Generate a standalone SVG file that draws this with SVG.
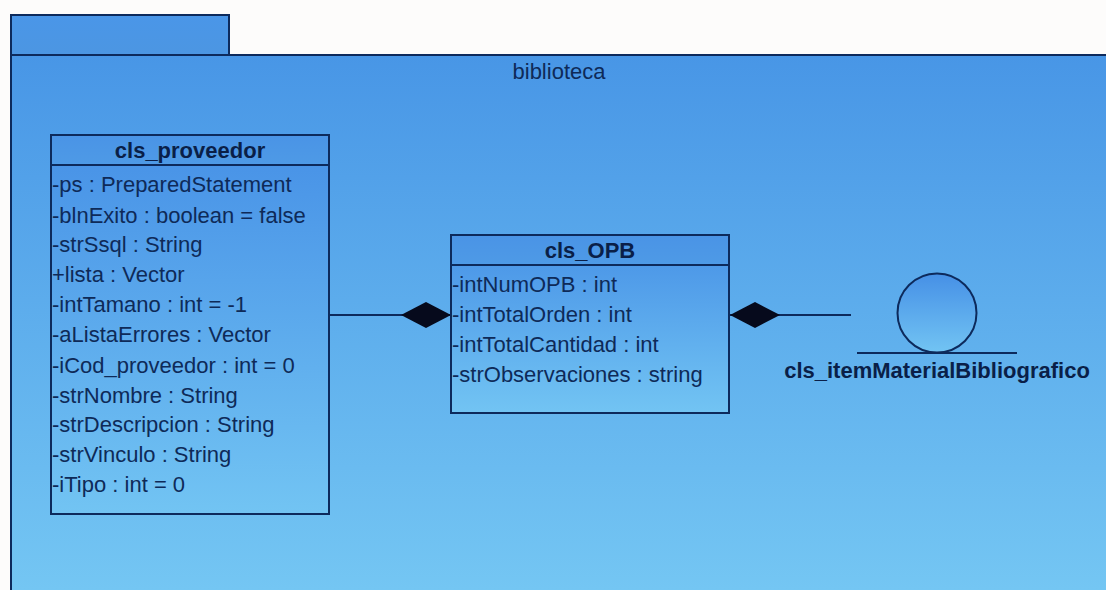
<svg xmlns="http://www.w3.org/2000/svg" width="1106" height="590" viewBox="0 0 1106 590">
<defs>
<linearGradient id="pkg" x1="0" y1="0" x2="0" y2="1"><stop offset="0" stop-color="#4896e6"/><stop offset="1" stop-color="#74c6f3"/></linearGradient>
<linearGradient id="tab" x1="0" y1="0" x2="0" y2="1"><stop offset="0" stop-color="#4a96e8"/><stop offset="1" stop-color="#4c96e2"/></linearGradient>
<linearGradient id="cls" x1="0" y1="0" x2="0" y2="1"><stop offset="0" stop-color="#4690e6"/><stop offset="1" stop-color="#72c4f3"/></linearGradient>
<linearGradient id="head" x1="0" y1="0" x2="0" y2="1"><stop offset="0" stop-color="#4a94e6"/><stop offset="1" stop-color="#4e9ae6"/></linearGradient>
<marker id="dia" markerUnits="userSpaceOnUse" markerWidth="52" markerHeight="28" refX="51" refY="14" orient="auto"><path d="M1 14 L26 1 L51 14 L26 27 Z" fill="#060a1c"/></marker>
</defs>
<style>
.ln{stroke:#0d2a5c;stroke-width:2;fill:none}
.ft{stroke:#0d2a5c;stroke-width:2}
.t{font-family:"Liberation Sans",Arial,sans-serif;font-size:22px;fill:#0e2a58}
.b{font-family:"Liberation Sans",Arial,sans-serif;font-size:22px;font-weight:bold;fill:#0a1f48}
</style>
<rect width="1106" height="590" fill="#fdfcfb"/>
<g id="pkg-biblioteca">
<rect x="11" y="15" width="218" height="40" fill="url(#tab)" class="ft"/>
<path d="M11 55 H1106 V590 H11 Z" fill="url(#pkg)"/>
<path d="M11 590 V55 H1106" class="ln"/>
<text class="t" x="559" y="79" text-anchor="middle">biblioteca</text>
</g>
<g id="conns">
<path class="ln" d="M329 315 H451" marker-end="url(#dia)"/>
<path class="ln" d="M851 315 H730" marker-end="url(#dia)"/>
</g>
<g id="cls_proveedor">
<rect x="51" y="135" width="278" height="379" fill="url(#cls)" class="ft"/>
<rect x="52" y="136" width="276" height="29" fill="url(#head)"/>
<path class="ln" d="M51 165 H329"/>
<text class="b" x="190" y="158" text-anchor="middle">cls_proveedor</text>
<text class="t" x="52" y="192">-ps : PreparedStatement</text>
<text class="t" x="52" y="223">-blnExito : boolean = false</text>
<text class="t" x="52" y="252">-strSsql : String</text>
<text class="t" x="52" y="282">+lista : Vector</text>
<text class="t" x="52" y="312">-intTamano : int = -1</text>
<text class="t" x="52" y="342">-aListaErrores : Vector</text>
<text class="t" x="52" y="373">-iCod_proveedor : int = 0</text>
<text class="t" x="52" y="403">-strNombre : String</text>
<text class="t" x="52" y="432">-strDescripcion : String</text>
<text class="t" x="52" y="462">-strVinculo : String</text>
<text class="t" x="52" y="492">-iTipo : int = 0</text>
</g>
<g id="cls_OPB">
<rect x="451" y="235" width="278" height="178" fill="url(#cls)" class="ft"/>
<rect x="452" y="236" width="276" height="29" fill="url(#head)"/>
<path class="ln" d="M451 265 H729"/>
<text class="b" x="590" y="258" text-anchor="middle">cls_OPB</text>
<text class="t" x="452" y="292">-intNumOPB : int</text>
<text class="t" x="452" y="322">-intTotalOrden : int</text>
<text class="t" x="452" y="352">-intTotalCantidad : int</text>
<text class="t" x="452" y="382">-strObservaciones : string</text>
</g>
<g id="cls_itemMaterialBibliografico">
<circle cx="937" cy="313" r="39.500" fill="url(#cls)" class="ft"/>
<path class="ln" d="M857 353 H1017"/>
<text class="b" x="937" y="378" text-anchor="middle">cls_itemMaterialBibliografico</text>
</g>
</svg>
